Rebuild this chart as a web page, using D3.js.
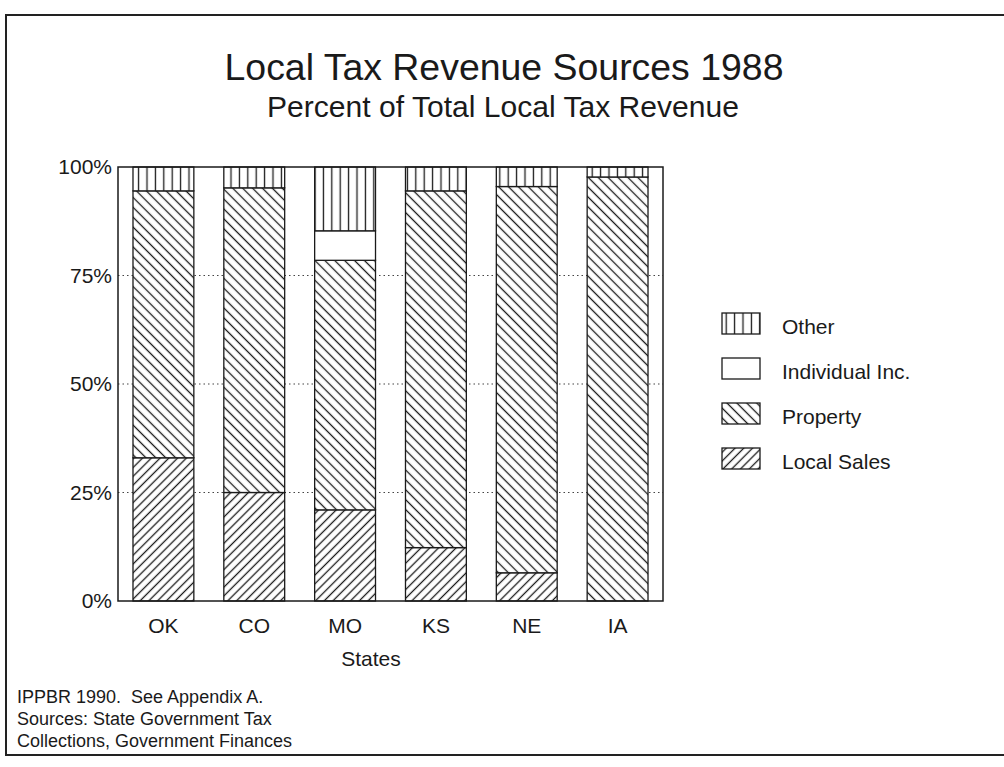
<!DOCTYPE html>
<html>
<head>
<meta charset="utf-8">
<script src="https://cdn.jsdelivr.net/npm/d3@7"></script>
<style>
  html, body { margin: 0; padding: 0; background: #fff; }
  svg { display: block; }
  text { font-family: "Liberation Sans", Arial, Helvetica, sans-serif; fill: #1a1a1a; white-space: pre; }
</style>
</head>
<body>
<svg id="chart" width="1004" height="767"></svg>
<script>
// Local tax revenue shares by state, 1988 (percent of total local tax revenue)
const states        = ["OK", "CO", "MO", "KS", "NE", "IA"];
const localSales    = [33.0, 25.0, 21.0, 12.3, 6.5, 0.0];
const property      = [61.5, 70.2, 57.5, 82.2, 89.0, 97.7];
const individualInc = [0.0, 0.0, 6.8, 0.0, 0.0, 0.0];
const other         = [5.5, 4.8, 14.7, 5.5, 4.5, 2.3];

const yTicks = [0, 25, 50, 75, 100];
const gridTicks = [25, 50, 75];

const seriesKeys   = ["localSales", "property", "individualInc", "other"];
const seriesLabels = ["Local Sales", "Property", "Individual Inc.", "Other"];
const legendOrder  = ["other", "individualInc", "property", "localSales"];

const titleText    = "Local Tax Revenue Sources 1988";
const subtitleText = "Percent of Total Local Tax Revenue";
const xTitle       = "States";
const noteLines    = [
  "IPPBR 1990.  See Appendix A.",
  "Sources: State Government Tax",
  "Collections, Government Finances"
];

const rows = states.map((s, i) => ({
  state: s,
  localSales: localSales[i],
  property: property[i],
  individualInc: individualInc[i],
  other: other[i]
}));

const svg = d3.select("#chart");
const ink = "#1a1a1a";

// ----- hatch fills -----
const defs = svg.append("defs");
function hatch(id, spacing, angle) {
  const p = defs.append("pattern")
    .attr("id", id)
    .attr("patternUnits", "userSpaceOnUse")
    .attr("width", spacing)
    .attr("height", spacing)
    .attr("patternTransform", `rotate(${angle})`);
  p.append("rect").attr("width", spacing).attr("height", spacing).attr("fill", "#fff");
  p.append("line")
    .attr("x1", spacing / 2).attr("y1", -1)
    .attr("x2", spacing / 2).attr("y2", spacing + 1)
    .attr("stroke", ink).attr("stroke-width", 1.3);
}
hatch("hatch-other", 8.4, 0);
hatch("hatch-property", 7.0, -45);
hatch("hatch-sales", 6.2, 45);

const fills = {
  other: "url(#hatch-other)",
  individualInc: "#fff",
  property: "url(#hatch-property)",
  localSales: "url(#hatch-sales)"
};

// ----- outer frame -----
svg.append("rect")
  .attr("x", 6).attr("y", 15)
  .attr("width", 1020).attr("height", 740)
  .attr("fill", "none").attr("stroke", "#222").attr("stroke-width", 2);

// ----- titles -----
svg.append("text")
  .attr("x", 504).attr("y", 80)
  .attr("text-anchor", "middle")
  .attr("font-size", 36)
  .attr("textLength", 559)
  .attr("lengthAdjust", "spacingAndGlyphs")
  .text(titleText);
svg.append("text")
  .attr("x", 503).attr("y", 117)
  .attr("text-anchor", "middle")
  .attr("font-size", 30)
  .attr("textLength", 472)
  .attr("lengthAdjust", "spacingAndGlyphs")
  .text(subtitleText);

// ----- scales -----
const plot = { left: 118, right: 663, top: 167, bottom: 601 };
const x = d3.scaleBand()
  .domain(states)
  .range([plot.left, plot.right])
  .paddingInner(0.33)
  .paddingOuter(0.165);
const y = d3.scaleLinear()
  .domain([0, 100])
  .range([plot.bottom, plot.top]);

// dotted reference lines
svg.append("g")
  .selectAll("line")
  .data(gridTicks)
  .join("line")
  .attr("x1", plot.left).attr("x2", plot.right)
  .attr("y1", d => y(d)).attr("y2", d => y(d))
  .attr("stroke", "#444").attr("stroke-width", 1.2)
  .attr("stroke-dasharray", "1.5,3");

// ----- stacked bars -----
const stacked = d3.stack().keys(seriesKeys)(rows);
const layers = svg.append("g")
  .selectAll("g")
  .data(stacked)
  .join("g")
  .attr("fill", d => fills[d.key]);
layers.selectAll("rect")
  .data(d => d.filter(s => s[1] - s[0] > 0))
  .join("rect")
  .attr("x", d => x(d.data.state))
  .attr("width", x.bandwidth())
  .attr("y", d => y(d[1]))
  .attr("height", d => y(d[0]) - y(d[1]))
  .attr("stroke", ink)
  .attr("stroke-width", 1.3);

// ----- plot box -----
svg.append("rect")
  .attr("x", plot.left).attr("y", plot.top)
  .attr("width", plot.right - plot.left)
  .attr("height", plot.bottom - plot.top)
  .attr("fill", "none").attr("stroke", ink).attr("stroke-width", 1.5);

// ----- axes -----
const yAxis = svg.append("g")
  .attr("transform", `translate(${plot.left},0)`)
  .call(d3.axisLeft(y).tickValues(yTicks).tickSize(0).tickPadding(6).tickFormat(d => d + "%"));
yAxis.select(".domain").remove();
yAxis.selectAll("text")
  .attr("font-size", 21)
  .attr("font-family", null)
  .attr("fill", ink);

const xAxis = svg.append("g")
  .attr("transform", `translate(0,${plot.bottom})`)
  .call(d3.axisBottom(x).tickSize(0).tickPadding(0));
xAxis.select(".domain").remove();
xAxis.selectAll("text")
  .attr("font-size", 21)
  .attr("font-family", null)
  .attr("dy", null)
  .attr("y", 32)
  .attr("fill", ink);

svg.append("text")
  .attr("x", 371).attr("y", 666)
  .attr("text-anchor", "middle")
  .attr("font-size", 21)
  .text(xTitle);

// ----- legend -----
const legend = svg.append("g")
  .selectAll("g")
  .data(legendOrder)
  .join("g")
  .attr("transform", (d, i) => `translate(722,${313 + i * 45})`);
legend.append("rect")
  .attr("width", 38).attr("height", 21)
  .attr("fill", d => fills[d])
  .attr("stroke", ink).attr("stroke-width", 1.3);
legend.append("text")
  .attr("x", 60).attr("y", 21)
  .attr("font-size", 21)
  .text(d => seriesLabels[seriesKeys.indexOf(d)]);

// ----- source note -----
svg.append("g")
  .selectAll("text")
  .data(noteLines)
  .join("text")
  .attr("x", 17)
  .attr("y", (d, i) => 703 + i * 22)
  .attr("font-size", 18)
  .text(d => d);
</script>
</body>
</html>
